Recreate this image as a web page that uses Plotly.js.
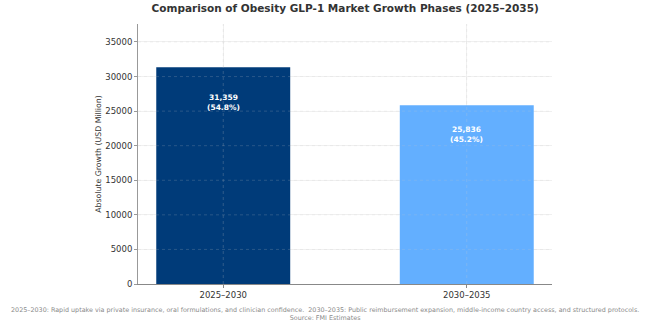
<!DOCTYPE html>
<html><head><meta charset="utf-8">
<script src="https://cdn.plot.ly/plotly-3.0.1.min.js"></script>
<style>html,body{margin:0;padding:0;background:#fff}</style>
</head><body>
<div id="chart" style="width:650px;height:324px"></div>
<script>
const categories = ["2025–2030", "2030–2035"];
const growth = [31359, 25836];
const shares = [54.8, 45.2];
const colors = ["#003b79", "#63afff"];
const yTicks = [0, 5000, 10000, 15000, 20000, 25000, 30000, 35000];

const trace = {
  type: "bar",
  x: categories,
  y: growth,
  width: 0.55,
  marker: {color: colors, line: {width: 0}},
  hoverinfo: "skip"
};

const annotations = categories.map((c, i) => ({
  x: c, y: growth[i] * 0.835, xref: "x", yref: "y",
  text: "<b>" + growth[i].toLocaleString("en-US") + "<br>(" + shares[i].toFixed(1) + "%)</b>",
  showarrow: false,
  font: {family: "DejaVu Sans", size: 7.5, color: "#ffffff"}
}));
annotations.push({
  xref: "paper", yref: "paper", x: 0.5, y: -0.075, xanchor: "center", yanchor: "top",
  xshift: -20,
  text: "2025–2030: Rapid uptake via private insurance, oral formulations, and clinician confidence.  2030–2035: Public reimbursement expansion, middle-income country access, and structured protocols.<br>Source: FMI Estimates",
  showarrow: false,
  font: {family: "DejaVu Sans", size: 6.4, color: "#8a8a8a"}
});

const shapes = [];
yTicks.slice(1).forEach(v => shapes.push({
  type: "line", layer: "above", xref: "paper", yref: "y", x0: 0, x1: 1, y0: v, y1: v,
  line: {color: "rgba(200,200,200,0.25)", width: 0.8, dash: "dot"}
}));
categories.forEach(c => shapes.push({
  type: "line", layer: "above", xref: "x", yref: "paper", x0: c, x1: c, y0: 0, y1: 1,
  line: {color: "rgba(200,200,200,0.3)", width: 0.8, dash: "dot"}
}));

const layout = {
  width: 650, height: 324,
  margin: {l: 138, r: 98, t: 24, b: 40},
  paper_bgcolor: "#ffffff", plot_bgcolor: "#ffffff",
  showlegend: false,
  title: {text: "<b>Comparison of Obesity GLP-1 Market Growth Phases (2025–2035)</b>",
    font: {family: "DejaVu Sans", size: 10.5, color: "#333333"},
    x: 0.531, xanchor: "center", y: 0.985, yanchor: "top"},
  xaxis: {range: [-0.35, 1.35], showgrid: true, gridcolor: "#ececec", gridwidth: 0.8,
    showline: true, linecolor: "#888888", linewidth: 1, ticks: "outside", ticklen: 3,
    tickcolor: "#888888", tickfont: {family: "DejaVu Sans", size: 8.5, color: "#333333"}, zeroline: false},
  yaxis: {range: [0, 37600], tickvals: yTicks, ticktext: yTicks.map(String), showgrid: true,
    gridcolor: "#ececec", gridwidth: 0.8, showline: true, linecolor: "#999999", linewidth: 1,
    ticks: "outside", ticklen: 3, tickcolor: "#999999", zeroline: false,
    tickfont: {family: "DejaVu Sans", size: 8.5, color: "#333333"},
    title: {text: "Absolute Growth (USD Million)", standoff: 2,
      font: {family: "DejaVu Sans", size: 7.8, color: "#333333"}}},
  annotations: annotations,
  shapes: shapes
};

Plotly.newPlot("chart", [trace], layout, {displayModeBar: false, staticPlot: true});
</script>
</body></html>
